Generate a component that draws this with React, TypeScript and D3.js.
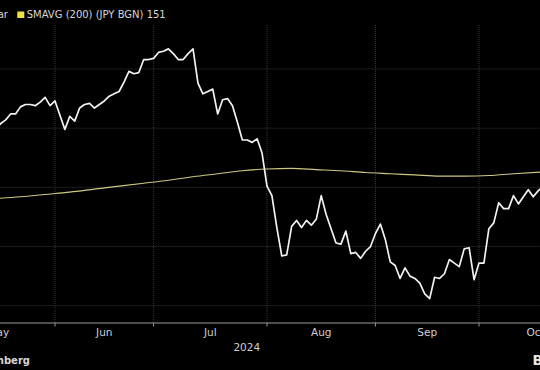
import React, { useEffect, useRef } from "react";
import * as d3 from "d3";

// USD/JPY daily close (trading days), from May 15 2024
const priceStart = "2024-05-15";
const priceValues = [
  154.9, 155.4, 155.7, 156.2, 156.2, 156.8, 157.0, 157.0, 156.9, 157.2,
  157.6, 156.9, 157.3, 156.1, 154.9, 156.0, 155.6, 156.7, 157.0, 157.1,
  156.7, 157.0, 157.3, 157.7, 157.9, 158.1, 158.9, 159.8, 159.6, 159.7,
  160.8, 160.8, 160.9, 161.4, 161.5, 161.7, 161.3, 160.8, 160.8, 161.3,
  161.7, 158.8, 157.9, 158.1, 158.3, 156.2, 157.4, 157.5, 156.9, 155.5,
  154.0, 154.0, 153.8, 154.1, 152.9, 150.1, 149.3, 146.6, 144.2, 144.3,
  146.7, 147.2, 146.6, 147.2, 146.8, 147.3, 149.3, 147.7, 146.5, 145.3,
  145.2, 146.3, 144.4, 144.5, 144.0, 144.6, 145.0, 146.1, 146.9, 145.6,
  143.7, 143.4, 142.3, 143.2, 142.5, 142.3, 141.9, 141.0, 140.6, 142.4,
  142.3, 142.7, 143.9, 143.6, 143.3, 144.8, 144.9, 142.2, 143.6, 143.6,
  146.5, 147.0, 148.7, 148.2, 148.2, 149.3, 148.6, 149.2, 149.8, 149.2,
  149.7, 150.1,
];

// 200-day simple moving average, sampled weekly
const smaDates = [
  "2024-05-15", "2024-05-22", "2024-05-29", "2024-06-05", "2024-06-12",
  "2024-06-19", "2024-06-26", "2024-07-03", "2024-07-10", "2024-07-17",
  "2024-07-24", "2024-07-31", "2024-08-07", "2024-08-14", "2024-08-21",
  "2024-08-28", "2024-09-04", "2024-09-11", "2024-09-18", "2024-09-25",
  "2024-10-02", "2024-10-09", "2024-10-17",
];
const smaValues = [
  149.05, 149.2, 149.4, 149.6, 149.85, 150.1, 150.35, 150.6, 150.9, 151.15,
  151.4, 151.55, 151.6, 151.5, 151.4, 151.25, 151.15, 151.05, 150.95, 150.95,
  151.0, 151.15, 151.3,
];

const monthLabels = ["May", "Jun", "Jul", "Aug", "Sep", "Oct"];
const yTicks = [140, 145, 150, 155, 160];
const yearLabel = "2024";
const legendLabels = ["Yen per dollar", "SMAVG (200) (JPY BGN) 151"];
const sourceLabel = "Source: Bloomberg";
const logoLabel = "Bloomberg";

export default function App() {
  const svgRef = useRef<SVGSVGElement>(null);

  useEffect(() => {
    const width = 540;
    const height = 370;
    const font = "DejaVu Sans";

    const svg = d3.select(svgRef.current);
    svg.selectAll("*").remove();
    svg.attr("width", width).attr("height", height);

    svg.append("rect").attr("width", width).attr("height", height).attr("fill", "#000");

    // trading-day calendar (weekdays only, like the Bloomberg axis)
    const parse = d3.utcParse("%Y-%m-%d");
    const key = d3.utcFormat("%Y-%m-%d");
    const days = d3
      .utcDay.range(parse("2024-05-01")!, parse("2024-11-01")!)
      .filter((d) => d.getUTCDay() % 6 !== 0);
    const idxOf = new Map(days.map((d, i) => [key(d), i]));

    const start = idxOf.get(priceStart)!;
    const price = priceValues.map((v, k) => ({ i: start + k, v }));
    const sma = smaDates.map((d, k) => ({ i: idxOf.get(d)!, v: smaValues[k] }));
    const lastIdx = price[price.length - 1].i + 1;

    // the visible picture is a crop of a wider chart
    const plot = { left: -58.4, right: 548, top: 25, bottom: 323 };

    const x = d3.scaleLinear().domain([0, lastIdx + 1]).range([plot.left, plot.right]);
    const y = d3.scaleLinear().domain([140, 160]).range([305.7, 69]);

    // month boundaries
    const monthStarts: number[] = [];
    days.forEach((d, i) => {
      if (i === 0 || d.getUTCMonth() !== days[i - 1].getUTCMonth()) monthStarts.push(i);
    });
    const visibleStarts = monthStarts.filter((i) => i > 0 && i <= lastIdx);

    const grid = svg.append("g").attr("stroke", "#383838").attr("stroke-dasharray", "1,1").attr("stroke-width", 1);
    grid
      .selectAll("line.h")
      .data(yTicks)
      .enter()
      .append("line")
      .attr("x1", plot.left)
      .attr("x2", plot.right)
      .attr("y1", (d) => y(d))
      .attr("y2", (d) => y(d));

    grid
      .selectAll("line.v")
      .data(visibleStarts)
      .enter()
      .append("line")
      .attr("x1", (i) => x(i))
      .attr("x2", (i) => x(i))
      .attr("y1", plot.top)
      .attr("y2", plot.bottom);

    // x axis
    svg
      .append("line")
      .attr("x1", plot.left)
      .attr("x2", plot.right)
      .attr("y1", plot.bottom)
      .attr("y2", plot.bottom)
      .attr("stroke", "#9a9a9a")
      .attr("stroke-width", 1.2);

    svg
      .append("g")
      .selectAll("line")
      .data(visibleStarts)
      .enter()
      .append("line")
      .attr("x1", (i) => x(i))
      .attr("x2", (i) => x(i))
      .attr("y1", plot.bottom)
      .attr("y2", plot.bottom + 3.5)
      .attr("stroke", "#9a9a9a");

    const bounds = [...monthStarts, days.length];
    svg
      .append("g")
      .selectAll("text")
      .data(monthLabels)
      .enter()
      .append("text")
      .attr("x", (_, k) => (x(bounds[k]) + x(bounds[k + 1])) / 2)
      .attr("y", 336)
      .attr("text-anchor", "middle")
      .attr("font-family", font)
      .attr("font-size", 10.5)
      .attr("fill", "#cfcfcf")
      .text((d) => d);

    svg
      .append("text")
      .attr("x", (plot.left + plot.right) / 2 + 2)
      .attr("y", 350.5)
      .attr("text-anchor", "middle")
      .attr("font-family", font)
      .attr("font-size", 10.5)
      .attr("fill", "#cfcfcf")
      .text(yearLabel);

    // lines
    const smaLine = d3
      .line<{ i: number; v: number }>()
      .x((d) => x(d.i + 1))
      .y((d) => y(d.v))
      .curve(d3.curveMonotoneX);

    svg
      .append("path")
      .datum(sma)
      .attr("d", smaLine)
      .attr("fill", "none")
      .attr("stroke", "#cfc783")
      .attr("stroke-width", 1.1);

    const priceLine = d3
      .line<{ i: number; v: number }>()
      .x((d) => x(d.i + 1))
      .y((d) => y(d.v));

    svg
      .append("path")
      .datum(price)
      .attr("d", priceLine)
      .attr("fill", "none")
      .attr("stroke", "#f2f2f2")
      .attr("stroke-width", 1.7)
      .attr("stroke-linejoin", "round");

    // legend
    const legend = svg.append("g").attr("font-family", font).attr("font-size", 10).attr("fill", "#d6d6d6");
    legend.append("rect").attr("x", -82).attr("y", 11.5).attr("width", 7).attr("height", 6.5).attr("fill", "#f2f2f2");
    legend
      .append("text")
      .attr("x", 8)
      .attr("y", 17.8)
      .attr("text-anchor", "end")
      .text(legendLabels[0]);
    legend.append("rect").attr("x", 17.3).attr("y", 11.5).attr("width", 7).attr("height", 6.5).attr("fill", "#f0e13c");
    legend.append("text").attr("x", 26.7).attr("y", 17.8).text(legendLabels[1]);

    // source / logo
    svg
      .append("text")
      .attr("x", 30)
      .attr("y", 364)
      .attr("text-anchor", "end")
      .attr("font-family", font)
      .attr("font-size", 10)
      .attr("font-weight", "bold")
      .attr("fill", "#d6d6d6")
      .text(sourceLabel);

    svg
      .append("text")
      .attr("x", 532.5)
      .attr("y", 364.5)
      .attr("font-family", font)
      .attr("font-size", 13.5)
      .attr("font-weight", "bold")
      .attr("fill", "#e6e6e6")
      .text(logoLabel);
  }, []);

  return (
    <svg
      ref={svgRef}
      style={{ display: "block", position: "absolute", left: 0, top: 0, background: "#000" }}
    ></svg>
  );
}
